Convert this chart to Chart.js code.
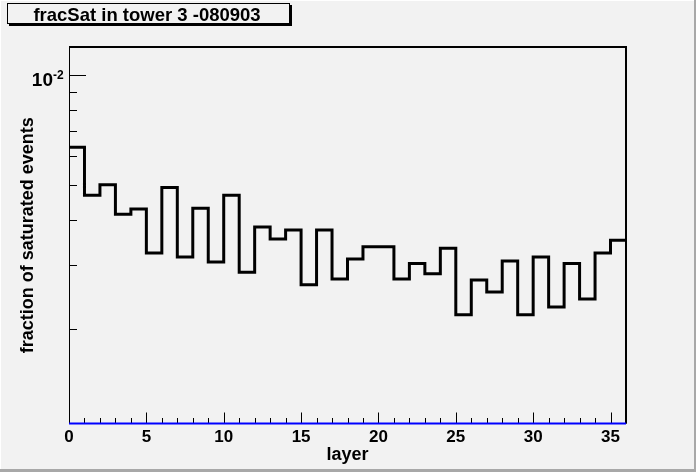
<!DOCTYPE html>
<html>
<head>
<meta charset="utf-8">
<script src="https://cdn.jsdelivr.net/npm/chart.js@4/dist/chart.umd.min.js"></script>
<style>
  html, body { margin: 0; padding: 0; background: #f2f2f2; }
  canvas { display: block; }
</style>
</head>
<body>
<canvas id="histo" width="696" height="472"></canvas>
<script>
// Histogram data (one value per layer bin)
const layers = [0, 1, 2, 3, 4, 5, 6, 7, 8, 9, 10, 11, 12, 13, 14, 15, 16, 17,
    18, 19, 20, 21, 22, 23, 24, 25, 26, 27, 28, 29, 30, 31, 32, 33, 34, 35]
const fracSat = [0.00633, 0.00467, 0.00499, 0.00414, 0.00428, 0.00324, 0.00491, 0.00316,
    0.00430, 0.00306, 0.00467, 0.00287, 0.00382, 0.00354, 0.00375, 0.00265, 0.00375, 0.00275,
    0.00312, 0.00337, 0.00337, 0.00275, 0.00303, 0.00284, 0.00334, 0.00219, 0.00273, 0.00253,
    0.00308, 0.00219, 0.00316, 0.00230, 0.00303, 0.00242, 0.00324, 0.00351]
const layerMax = 36
const xTickLabels = [0, 5, 10, 15, 20, 25, 30, 35]
const yMajorTicks = [0.01]
const yMinorTicks = [0.002, 0.003, 0.004, 0.005, 0.006, 0.007, 0.008, 0.009]
const yMin = 0.0011
const yMax = 0.01195

const FONT = '"Liberation Sans", Arial, Helvetica, sans-serif'

// histogram outline points: left edge of every bin, plus the closing right edge
let histPoints = layers.map((l, i) => ({ x: l, y: fracSat[i] }))
histPoints.push({ x: layerMax, y: fracSat[fracSat.length - 1] })

// ROOT style decorations
const rootStyle = {
    id: 'rootStyle',
    beforeDraw(chart) {
        const ctx = chart.ctx
        ctx.save()
        ctx.fillStyle = '#f2f2f2'
        ctx.fillRect(0, 0, chart.width, chart.height)
        // canvas bevel
        ctx.fillStyle = '#ffffff'
        ctx.fillRect(0, 0, chart.width, 1)
        ctx.fillRect(0, 0, 1, chart.height)
        ctx.fillStyle = '#a8a8a8'
        ctx.fillRect(chart.width - 2, 0, 2, chart.height)
        ctx.fillRect(0, chart.height - 3, chart.width, 3)
        ctx.restore()
    },
    afterDatasetsDraw(chart) {
        const ctx = chart.ctx
        const area = chart.chartArea
        const xs = chart.scales.x
        const ys = chart.scales.y
        ctx.save()

        // frame
        ctx.strokeStyle = '#000'
        ctx.lineWidth = 2
        ctx.beginPath()
        ctx.moveTo(area.left, area.top)
        ctx.lineTo(area.right, area.top)
        ctx.lineTo(area.right, area.bottom)
        ctx.stroke()
        ctx.lineWidth = 1
        ctx.beginPath()
        ctx.moveTo(area.left + 0.5, area.top)
        ctx.lineTo(area.left + 0.5, area.bottom)
        ctx.stroke()

        // x ticks (inside the frame)
        ctx.lineWidth = 1
        ctx.beginPath()
        for (let v = 0; v <= layerMax; v++) {
            const px = Math.round(xs.getPixelForValue(v)) + 0.5
            const len = xTickLabels.includes(v) ? 11 : 5.5
            ctx.moveTo(px, area.bottom)
            ctx.lineTo(px, area.bottom - len)
        }
        // y ticks
        yMajorTicks.forEach(v => {
            const py = Math.round(ys.getPixelForValue(v)) + 0.5
            ctx.moveTo(area.left, py)
            ctx.lineTo(area.left + 17, py)
        })
        yMinorTicks.forEach(v => {
            const py = Math.round(ys.getPixelForValue(v)) + 0.5
            ctx.moveTo(area.left, py)
            ctx.lineTo(area.left + 8, py)
        })
        ctx.stroke()

        // blue baseline
        ctx.strokeStyle = '#0000ff'
        ctx.lineWidth = 2
        ctx.beginPath()
        ctx.moveTo(xs.getPixelForValue(0), area.bottom)
        ctx.lineTo(xs.getPixelForValue(layerMax), area.bottom)
        ctx.stroke()

        // x tick labels
        ctx.fillStyle = '#000'
        ctx.font = 'bold 17px ' + FONT
        ctx.textAlign = 'center'
        ctx.textBaseline = 'alphabetic'
        xTickLabels.forEach(v => {
            ctx.fillText(String(v), xs.getPixelForValue(v), 442)
        })

        // y tick label 10^-2
        yMajorTicks.forEach(v => {
            const py = ys.getPixelForValue(v)
            const exp = Math.round(Math.log10(v))
            ctx.textAlign = 'right'
            ctx.font = 'bold 19px ' + FONT
            ctx.fillText('10', 53, py + 11)
            ctx.textAlign = 'left'
            ctx.font = 'bold 12px ' + FONT
            ctx.fillText(String(exp), 53, py + 4)
        })

        // axis titles
        ctx.font = 'bold 18px ' + FONT
        ctx.textAlign = 'center'
        ctx.fillText('layer', (area.left + area.right) / 2, 460)
        ctx.save()
        ctx.translate(33, (area.top + area.bottom) / 2)
        ctx.rotate(-Math.PI / 2)
        ctx.fillText('fraction of saturated events', 0, 0)
        ctx.restore()

        // title box
        ctx.fillStyle = '#000'
        ctx.fillRect(9, 5, 283, 21)
        ctx.fillStyle = '#f2f2f2'
        ctx.fillRect(7, 3, 283, 21)
        ctx.strokeStyle = '#000'
        ctx.lineWidth = 1
        ctx.strokeRect(7.5, 3.5, 282, 20)
        ctx.fillStyle = '#000'
        ctx.font = 'bold 18.5px ' + FONT
        ctx.textAlign = 'center'
        ctx.fillText('fracSat in tower 3 -080903', 147, 21)

        ctx.restore()
    }
}

const ctx = document.getElementById('histo').getContext('2d')
const histo = new Chart(ctx, {
    type: 'line',
    data: {
        datasets: [
            {
                data: histPoints,
                stepped: true,
                borderColor: '#000',
                borderWidth: 3,
                pointRadius: 0,
                fill: false,
                tension: 0,
            }
        ]
    },
    options: {
        responsive: false,
        animation: false,
        devicePixelRatio: 1,
        layout: {
            padding: { left: 69, right: 70, top: 47, bottom: 48.5 }
        },
        plugins: {
            legend: { display: false },
            tooltip: { enabled: false },
            title: { display: false }
        },
        scales: {
            x: { type: 'linear', min: 0, max: layerMax, display: false },
            y: { type: 'logarithmic', min: yMin, max: yMax, display: false }
        }
    },
    plugins: [rootStyle]
})
</script>
</body>
</html>
